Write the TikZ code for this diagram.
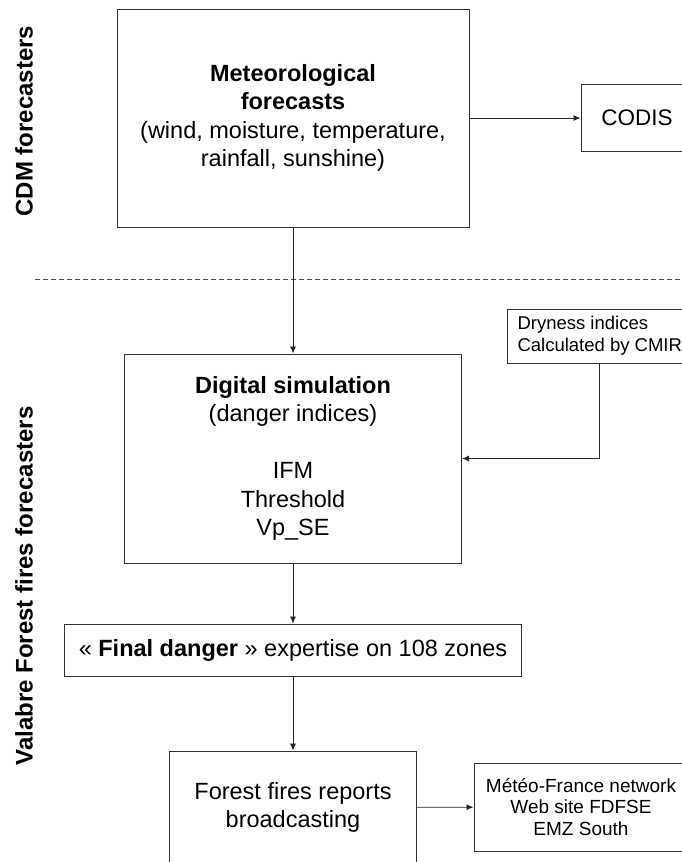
\documentclass[tikz,border=0pt]{standalone}
\usepackage{fontspec}
\setmainfont{Liberation Sans}
\usetikzlibrary{arrows.meta}

\tikzset{
  box/.style={draw=black!80, line width=1pt, fill=white, align=center, inner sep=0pt},
  bigtext/.style={font=\fontsize{23.5}{28.5}\selectfont},
  smalltext/.style={font=\fontsize{18.5}{22}\selectfont},
  sidelabel/.style={rotate=90, font=\bfseries\fontsize{24}{28}\selectfont},
  flow/.style={-{Latex[length=7pt,width=6pt]}, line width=0.9pt, draw=black!85},
}

\begin{document}
\begin{tikzpicture}[x=1pt, y=-1pt]
            \clip (0,0) rectangle (682,862);

            % who does what
            \node[sidelabel] (cdm) at (24,121) {CDM forecasters};
            \node[sidelabel] (valabre) at (24,586) {Valabre Forest fires forecasters};
            \draw[dash pattern=on 5pt off 3pt, line width=0.8pt, black!70] (35,279) -- (682,279);

            % boxes
            \node[box, bigtext, minimum width=352pt, minimum height=218pt] (met) at (293,118)
                {\textbf{Meteorological}\\ \textbf{forecasts}\\ (wind, moisture, temperature,\\ rainfall, sunshine)};
            \node[box, font=\fontsize{22.5}{27}\selectfont, minimum width=112pt, minimum height=67pt] (codis) at (637,118) {CODIS};
            \node[box, smalltext, anchor=west, align=left, inner xsep=10pt, minimum height=54pt] (cmir) at (507,336)
                {Dryness indices\\ Calculated by CMIR};
            \node[box, bigtext, minimum width=337pt, minimum height=209pt] (digital) at (293,458.5)
                {\textbf{Digital simulation}\\ (danger indices)\\[28.5pt] IFM\\ Threshold\\ Vp\_SE};
            \node[box, bigtext, minimum width=457pt, minimum height=52pt] (final) at (293,650)
                {« \textbf{Final danger} » expertise on 108 zones};
            \node[box, bigtext, minimum width=247pt, minimum height=113pt] (forest) at (293,807.5)
                {Forest fires reports\\ broadcasting};
            \node[box, font=\fontsize{19}{21.5}\selectfont, minimum width=214pt, minimum height=88pt] (meteo) at (581,807)
                {Météo-France network\\ Web site FDFSE\\ EMZ South};

            % connectors
            \coordinate (tapx) at (599,0);
            \draw[flow] (met) -- (codis);
            \draw[flow] (met) -- (digital);
            \draw[flow] (cmir.south -| tapx) |- (digital.east);
            \draw[flow] (digital) -- (final);
            \draw[flow] (final) -- (forest);
            \draw[flow] (forest) -- (meteo);
        \end{tikzpicture}
\end{document}
